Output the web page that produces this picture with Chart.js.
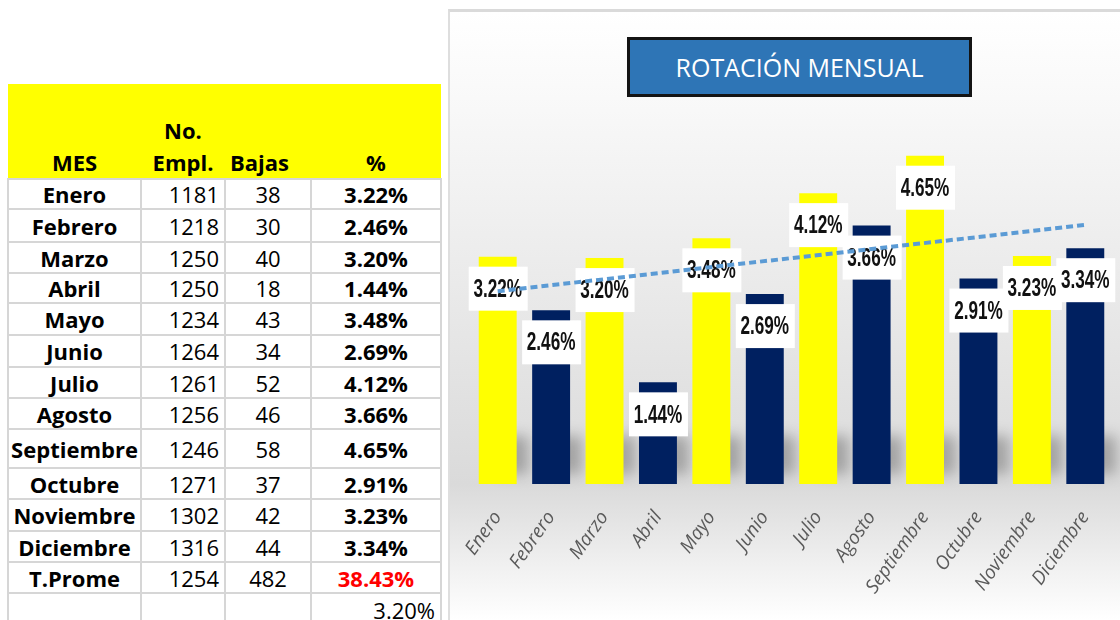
<!DOCTYPE html>
<html>
<head>
<meta charset="utf-8">
<script src="https://cdn.jsdelivr.net/npm/chart.js@4.4.0/dist/chart.umd.min.js"></script>
<style>
  body { margin: 0; width: 1120px; height: 620px; overflow: hidden; background: #fff; position: relative; font-family: "Open Sans", sans-serif; }
  #tabla { position: absolute; left: 7px; top: 84px; width: 433px; border-collapse: collapse; table-layout: fixed; font-size: 22px; color: #000; }
  #tabla td { border: 2px solid #d6d6d6; padding: 0 5px; line-height: 24px; white-space: nowrap; overflow: visible; }
  #tabla tr.head td { background: #ffff00; border: none; font-weight: bold; vertical-align: bottom; line-height: 32px; padding-bottom: 0; }
  #tabla .mes { text-align: center; font-weight: bold; padding: 0; }
  #tabla .emp { text-align: right; }
  #tabla .baj { text-align: center; }
  #tabla .pct { text-align: center; font-weight: bold; }
  #marco { position: absolute; left: 448px; top: 9px; width: 672px; height: 611px; box-sizing: border-box; border-top: 3px solid #dadada; border-left: 2px solid #dedede; }
  #lienzo { position: absolute; left: 450px; top: 12px; width: 670px; height: 608px; }
  #titulo { position: absolute; left: 627px; top: 37px; width: 345px; height: 60px; box-sizing: border-box; border: 3px solid #141414; background: #2e75b6; color: #fff; font-size: 25px; text-align: center; line-height: 54px; }
</style>
</head>
<body>
<table id="tabla">
  <colgroup><col style="width:133px"><col style="width:84px"><col style="width:86px"><col style="width:130px"></colgroup>
  <tbody id="cuerpo"></tbody>
</table>
<div id="marco"></div>
<div id="lienzo"><canvas id="grafica" width="670" height="608"></canvas></div>
<div id="titulo">ROTACIÓN MENSUAL</div>
<script>
const meses = ['Enero', 'Febrero', 'Marzo', 'Abril', 'Mayo', 'Junio', 'Julio', 'Agosto', 'Septiembre', 'Octubre', 'Noviembre', 'Diciembre'];
const empleados = [1181, 1218, 1250, 1250, 1234, 1264, 1261, 1256, 1246, 1271, 1302, 1316];
const bajas = [38, 30, 40, 18, 43, 34, 52, 46, 58, 37, 42, 44];
const rotacion = [3.22, 2.46, 3.20, 1.44, 3.48, 2.69, 4.12, 3.66, 4.65, 2.91, 3.23, 3.34];
// tendencia lineal (solo extremos)
const tendencia = [2.73, null, null, null, null, null, null, null, null, null, null, 3.67];
const totalEmpl = 1254;
const totalBajas = 482;
const totalPct = '38.43%';
const promedioPct = '3.20%';

const altoFilas = [30, 33, 31, 30, 32, 32, 31, 31, 39, 31, 32, 31, 31, 34];

// tabla
const cuerpo = document.getElementById('cuerpo');
let html = '<tr class="head" style="height:95px"><td style="text-align:center">MES</td>' +
  '<td style="text-align:center">No.<br>Empl.</td>' +
  '<td style="text-align:left">Bajas</td><td style="text-align:center">%</td></tr>';
meses.forEach((m, i) => {
  html += `<tr style="height:${altoFilas[i]}px"><td class="mes">${m}</td><td class="emp">${empleados[i]}</td>` +
    `<td class="baj">${bajas[i]}</td><td class="pct">${rotacion[i].toFixed(2)}%</td></tr>`;
});
html += `<tr style="height:${altoFilas[12]}px"><td class="mes">T.Prome</td><td class="emp">${totalEmpl}</td>` +
  `<td class="baj">${totalBajas}</td><td class="pct" style="color:#ff0000">${totalPct}</td></tr>`;
html += `<tr style="height:${altoFilas[13]}px"><td></td><td></td><td></td><td style="text-align:right">${promedioPct}</td></tr>`;
cuerpo.innerHTML = html;

// fondo degradado del panel
const fondo = {
  id: 'fondo',
  beforeDraw(chart) {
    const ctx = chart.ctx;
    const h = chart.height;
    const base = chart.chartArea.bottom;
    const g = ctx.createLinearGradient(0, 0, 0, h);
    g.addColorStop(0, '#ffffff');
    g.addColorStop(0.12, '#fafafa');
    g.addColorStop(base / h, '#dadada');
    g.addColorStop(1, '#ffffff');
    ctx.save();
    ctx.fillStyle = g;
    ctx.fillRect(0, 0, chart.width, h);
    ctx.restore();
  },
  beforeDatasetsDraw(chart) {
    // sombra de las barras sobre el piso
    const ctx = chart.ctx;
    const meta = chart.getDatasetMeta(0);
    ctx.save();
    ctx.filter = 'blur(7px)';
    ctx.fillStyle = 'rgba(0,0,0,0.26)';
    meta.data.forEach(bar => {
      const w = bar.width;
      ctx.fillRect(bar.x, bar.base - 48, w / 2 + 12, 38);
    });
    ctx.restore();
  }
};

// etiquetas blancas de valor
const etiquetas = {
  id: 'etiquetas',
  afterDatasetDraw(chart, args) {
    if (args.index !== 0) return;
    const ctx = chart.ctx;
    args.meta.data.forEach((bar, i) => {
      const txt = rotacion[i].toFixed(2) + '%';
      const cx = bar.x;
      const cy = bar.y + 32;
      ctx.save();
      ctx.fillStyle = '#ffffff';
      ctx.fillRect(cx - 29, cy - 22, 59, 44);
      ctx.translate(cx, cy + 1);
      ctx.scale(0.66, 1);
      ctx.font = 'bold 26px "Liberation Sans", sans-serif';
      ctx.textAlign = 'center';
      ctx.textBaseline = 'middle';
      ctx.fillStyle = '#111111';
      ctx.fillText(txt, 0, 0);
      ctx.restore();
    });
  }
};

const colores = meses.map((m, i) => i % 2 === 0 ? '#ffff00' : '#002060');

new Chart(document.getElementById('grafica'), {
  type: 'bar',
  data: {
    labels: meses,
    datasets: [
      {
        type: 'bar',
        data: rotacion,
        backgroundColor: colores,
        borderWidth: 0,
        barPercentage: 0.71,
        categoryPercentage: 1,
        order: 2
      },
      {
        type: 'line',
        data: tendencia,
        spanGaps: true,
        borderColor: '#5b9bd5',
        borderWidth: 4,
        borderDash: [7, 4],
        pointRadius: 0,
        fill: false,
        order: 1
      }
    ]
  },
  options: {
    responsive: false,
    animation: false,
    events: [],
    layout: { padding: { top: 119, left: 21, right: 8, bottom: 0 } },
    plugins: { legend: { display: false }, tooltip: { enabled: false } },
    scales: {
      x: {
        grid: { display: false, drawTicks: false },
        border: { display: false },
        ticks: {
          color: '#5a5a5a',
          font: { family: '"Open Sans", sans-serif', size: 19, style: 'italic' },
          minRotation: 55,
          maxRotation: 55,
          padding: 23
        },
        afterFit(scale) {
          scale.height = 136;
          scale.paddingLeft = 0;
          scale.paddingRight = 0;
        }
      },
      y: {
        display: false,
        min: 0,
        max: 5
      }
    }
  },
  plugins: [fondo, etiquetas]
});
</script>
</body>
</html>
